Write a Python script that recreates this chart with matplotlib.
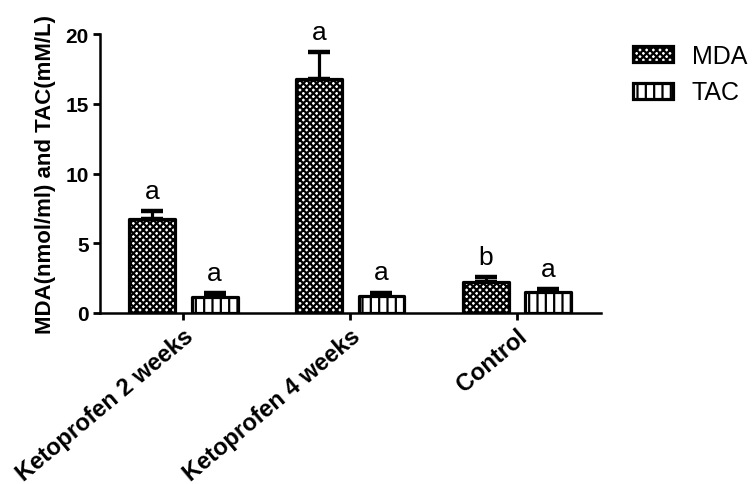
import numpy as np
import matplotlib.pyplot as plt
from matplotlib.patches import Patch

plt.rcParams['font.family'] = ['Liberation Sans', 'DejaVu Sans']
plt.rcParams['hatch.color'] = 'black'
plt.rcParams['hatch.linewidth'] = 1.6

groups = ['Ketoprofen 2 weeks', 'Ketoprofen 4 weeks', 'Control']
mda = [6.77, 16.8, 2.19]
mda_err = [0.55, 1.9, 0.4]
tac = [1.15, 1.25, 1.5]
tac_err = [0.25, 0.2, 0.2]
mda_sig = ['a', 'a', 'b']
tac_sig = ['a', 'a', 'a']

fig = plt.figure(figsize=(7.53, 4.85), dpi=100)
ax = fig.add_axes([0.1328, 0.3526, 0.6647, 0.5752])

x = np.arange(len(groups))
off = 0.187
w = 0.275
lw = 2.3
mda_hatch = 'xxxxx'
tac_hatch = '||'

# bars
ax.bar(x - off, mda, w, facecolor='white', edgecolor='black', hatch=mda_hatch,
       linewidth=lw, joinstyle='round', zorder=3)
ax.bar(x + off, tac, w, facecolor='white', edgecolor='black', hatch=tac_hatch,
       linewidth=lw, joinstyle='round', zorder=3)

# upper error bars only
zeros = np.zeros(len(groups))
ax.errorbar(x - off, mda, yerr=[zeros, mda_err], fmt='none', ecolor='black',
            elinewidth=lw, capsize=8, capthick=3.2, zorder=2)
ax.errorbar(x + off, tac, yerr=[zeros, tac_err], fmt='none', ecolor='black',
            elinewidth=lw, capsize=8, capthick=3.2, zorder=2)

# significance letters
for xi, v, e, s in zip(x - off, mda, mda_err, mda_sig):
    ax.annotate(s, (xi, v + e), xytext=(0, 6), textcoords='offset points',
                ha='center', va='bottom', fontsize=19)
for xi, v, e, s in zip(x + off, tac, tac_err, tac_sig):
    ax.annotate(s, (xi, v + e), xytext=(0, 6), textcoords='offset points',
                ha='center', va='bottom', fontsize=19)

ax.set_xlim(-0.5, 2.5)
ax.set_ylim(0, 20)
ax.set_yticks([0, 5, 10, 15, 20])
ax.set_xticks(x)
ax.set_xticklabels(groups, rotation=40, ha='right', va='top',
                   rotation_mode='anchor', fontsize=17, fontweight='bold')
for lab in ax.get_yticklabels():
    lab.set_fontsize(15)
    lab.set_fontweight('bold')
ax.tick_params(axis='both', width=2, length=5, pad=3)
ax.spines['top'].set_visible(False)
ax.spines['right'].set_visible(False)
ax.spines['left'].set_linewidth(1.8)
ax.spines['bottom'].set_linewidth(1.8)
ax.set_ylabel('MDA(nmol/ml) and TAC(mM/L)', fontsize=16, fontweight='bold',
              labelpad=7)

handles = [Patch(facecolor='white', edgecolor='black', hatch=mda_hatch, linewidth=lw),
           Patch(facecolor='white', edgecolor='black', hatch=tac_hatch, linewidth=lw)]
fig.legend(handles, ['MDA', 'TAC'], loc='upper left',
           bbox_to_anchor=(633 / 753, 1 - 45 / 485), frameon=False,
           fontsize=18, handlelength=1.6, handleheight=0.6,
           handletextpad=0.75, labelspacing=0.5, borderpad=0,
           borderaxespad=0)

fig.savefig('out.png', dpi=100)
